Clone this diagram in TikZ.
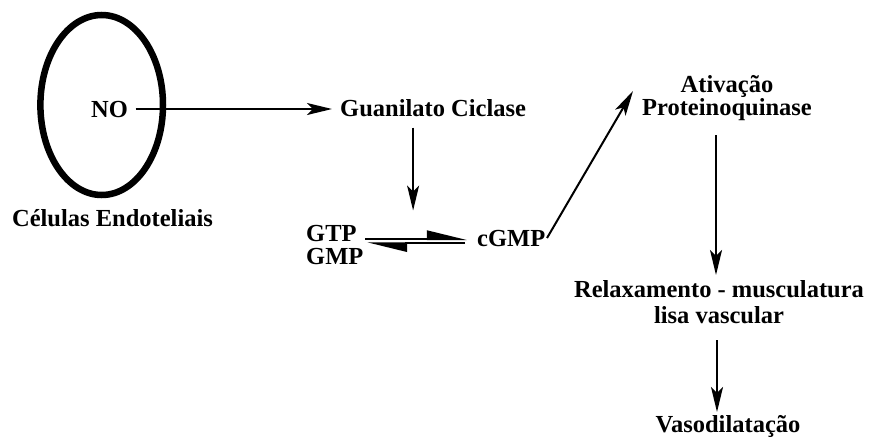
\documentclass[tikz,border=0pt]{standalone}
\usepackage{fontspec}
\setmainfont{Liberation Serif}
\usetikzlibrary{arrows.meta,calc}
\begin{document}
\begin{tikzpicture}[x=1pt,y=-1pt,
  lbl/.style={inner sep=0pt, font=\fontsize{24.5}{24.5}\selectfont\bfseries},
  arr/.style={line width=2pt, -{Stealth[length=25pt,width=12pt,inset=6pt]}},
  harp/.style={line width=2pt, -{Stealth[harpoon,length=36pt,width=17pt,inset=0pt]}}]
\useasboundingbox (0,0) rectangle (877,439);
% cell
\draw[line width=6.5pt] (101.7,105) ellipse [x radius=61.3pt, y radius=90pt];
% labels (base of multi-line nodes = last line)
\node[lbl, anchor=base] (no) at (109.5,117) {NO};
\node[lbl, anchor=base] (ce) at (112.5,226) {Células Endoteliais};
\node[lbl, anchor=base west] (gc) at (340,116) {Guanilato Ciclase};
\node[lbl, anchor=base west, align=left, font=\fontsize{24.5}{23}\selectfont\bfseries] (gg) at (306,264) {GTP\\GMP};
\node[lbl, anchor=base west] (cg) at (477,246) {cGMP};
\node[lbl, anchor=base, align=center, font=\fontsize{24.5}{22.6}\selectfont\bfseries] (av) at (727,115) {Ativação\\Proteinoquinase};
\node[lbl, anchor=base, align=center, font=\fontsize{24.5}{25.5}\selectfont\bfseries] (rl) at (719,323) {Relaxamento - musculatura\\lisa vascular};
\node[lbl, anchor=base] (vd) at (728,432) {Vasodilatação};
% connectors
\draw[arr] ($(no.east)+(7.5,0)$) -- ($(no.east -| gc.west)+(-8,0)$);
\draw[arr] ($(gc.south)+(-20,11)$) -- ($(gc.south)+(-20,94)$);
\draw[harp] ($(cg.base west)+(-112,-7)$) -- ($(cg.base west)+(-10,-7)$);
\draw[harp] ($(cg.base west)+(-12,-2.7)$) -- ($(cg.base west)+(-110,-2.7)$);
\draw[arr] ($(cg.east)+(1.6,0)$) -- ($(av.base)+(-94,-24)$);
\draw[arr] ($(av.base)+(-11,20)$) -- ($(rl.base)+(-3,-48)$);
\draw[arr] ($(rl.base)+(-2,17)$) -- ($(vd.base)+(-11,-20)$);
\end{tikzpicture}
\end{document}
